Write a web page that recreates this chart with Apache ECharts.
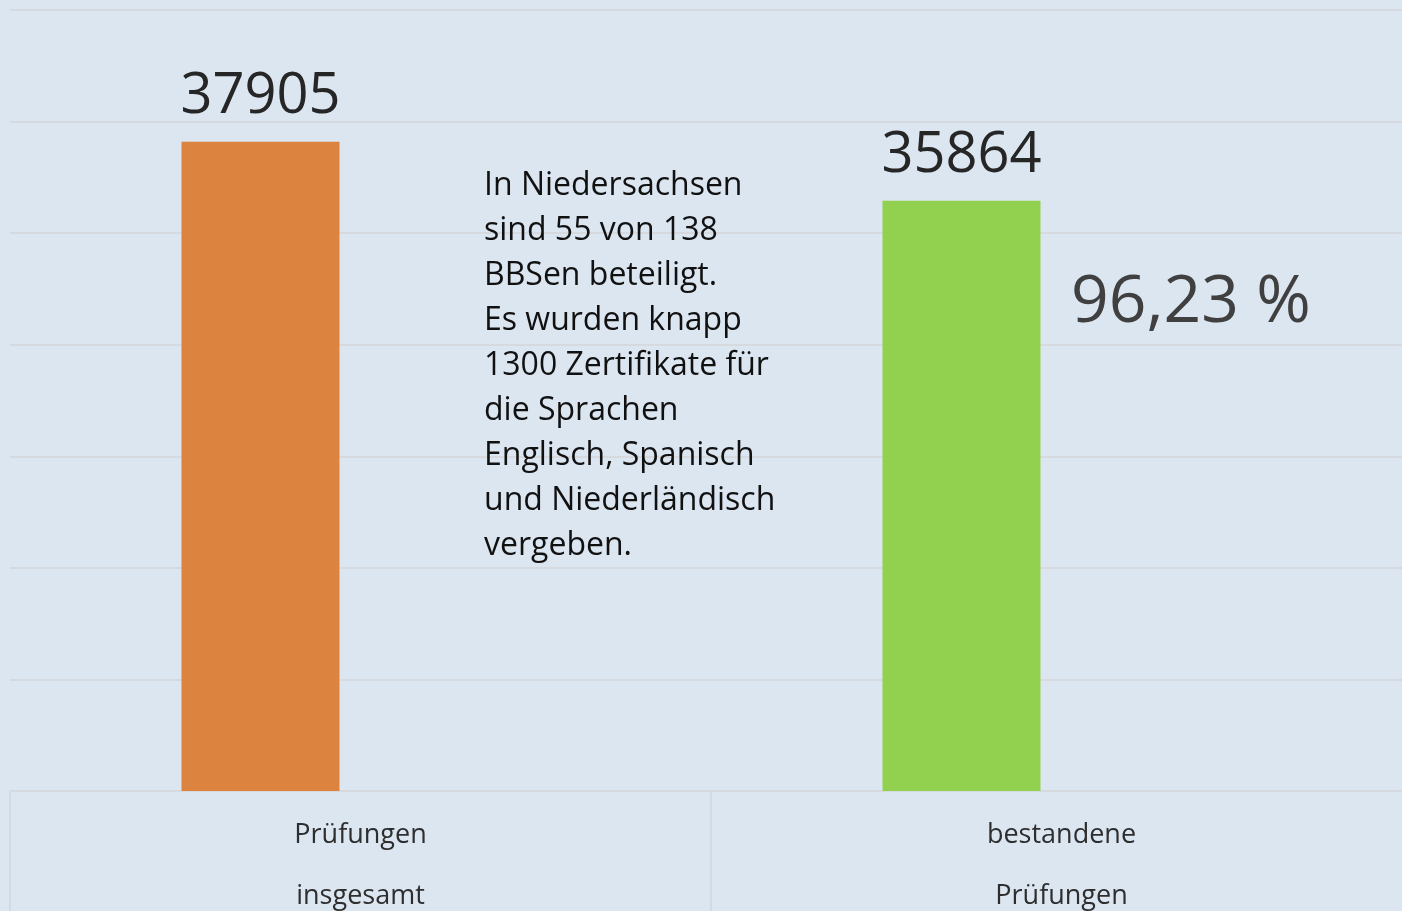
<!DOCTYPE html>
<html>
<head>
<meta charset="utf-8">
<script src="https://cdn.jsdelivr.net/npm/echarts@6/dist/echarts.min.js"></script>
<style>
html,body{margin:0;padding:0;background:#dce6f1;}
#chart{width:1402px;height:911px;}
</style>
</head>
<body>
<div id="chart"></div>
<script>
const categories = ['Prüfungen\ninsgesamt', 'bestandene\nPrüfungen'];
const values = [37905, 35864];
const barColors = ['#dc843f', '#92d050'];
const percentText = '96,23 %';
const noteLines = [
  'In Niedersachsen',
  'sind 55 von 138',
  'BBSen beteiligt.',
  'Es wurden knapp',
  '1300 Zertifikate für',
  'die Sprachen',
  'Englisch, Spanisch',
  'und Niederländisch',
  'vergeben.'
];

const FONT = '"Open Sans", "Noto Sans", sans-serif';
const chart = echarts.init(document.getElementById('chart'), null, {renderer: 'canvas'});
chart.setOption({
  backgroundColor: '#dce6f1',
  animation: false,
  grid: {left: 10, top: 10, width: 1402, height: 781, containLabel: false, outerBoundsMode: 'none'},
  xAxis: {
    type: 'category',
    data: categories,
    boundaryGap: true,
    axisLine: {show: true, lineStyle: {color: '#d6d9dd', width: 2}},
    axisTick: {show: true, length: 120, alignWithLabel: false, lineStyle: {color: '#d6d9dd', width: 2}},
    axisLabel: {
      color: '#2e2e2e', fontFamily: FONT, fontSize: 27, lineHeight: 61, margin: 14, interval: 0
    },
    splitLine: {show: false}
  },
  yAxis: {
    type: 'value',
    min: 15440, max: 42460, interval: 3860,
    axisLine: {show: false},
    axisTick: {show: false},
    axisLabel: {show: false},
    splitLine: {show: true, lineStyle: {color: '#d6d9dd', width: 2}}
  },
  series: [
    {
      type: 'bar',
      barWidth: 158,
      barGap: '26.6%',
      data: values.map((v, i) => ({value: v, itemStyle: {color: barColors[i]}})),
      label: {
        show: true, position: 'top', distance: 17,
        color: '#262626', fontFamily: FONT, fontSize: 56
      }
    },
    {
      type: 'bar',
      barWidth: 158,
      data: values.map(() => null)
    }
  ],
  graphic: [
    {
      type: 'text', left: 484, top: 163, z: 100,
      style: {
        text: noteLines.join('\n'), fill: '#111111', font: '32px ' + FONT, lineHeight: 45
      }
    },
    {
      type: 'text', left: 1071, top: 270, z: 100,
      style: {text: percentText, fill: '#404040', font: '66px ' + FONT}
    }
  ]
});
</script>
</body>
</html>
